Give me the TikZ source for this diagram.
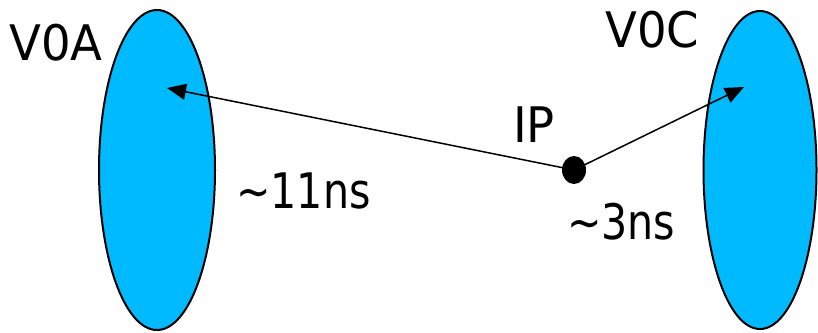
\documentclass[tikz,border=0pt]{standalone}
\usepackage{fontspec}
\usetikzlibrary{shapes.geometric,arrows.meta}
\newfontfamily\labfont[FakeStretch=0.95]{DejaVu Sans}
\newfontfamily\timefont[FakeStretch=0.84]{DejaVu Sans}
\definecolor{detblue}{RGB}{0,186,255}
\tikzset{
  detector/.style={ellipse, draw=black, line width=2pt, fill=detblue, inner sep=0pt},
  vertex/.style={ellipse, fill=black, inner sep=0pt, minimum width=24pt, minimum height=28pt},
  flight/.style={line width=1.5pt, -{Triangle[length=19pt,width=16pt]}},
  detlabel/.style={anchor=base west, inner sep=0pt, font=\labfont\fontsize{49}{49}\selectfont},
  toflabel/.style={anchor=base west, inner sep=0pt, font=\timefont\fontsize{49}{49}\selectfont}
}
\begin{document}
\begin{tikzpicture}[x=1pt,y=-1pt]
  \useasboundingbox (0,0) rectangle (818,332);
  % the two scintillator rings
  \node[detector, minimum width=116pt, minimum height=320pt] (v0a) at (157,170) {};
  \node[detector, minimum width=113pt, minimum height=318pt] (v0c) at (760,170) {};
  % interaction point
  \node[vertex] (ip) at (574,170) {};
  \coordinate (hitA) at (167,88);
  \coordinate (hitC) at (744,87);
  \draw[flight] (ip.center) -- (hitA);
  \draw[flight] (ip.center) -- (hitC);
  % labels
  \node[detlabel] (la) at (9,60) {V0A};
  \node[detlabel] (lc) at (605,47) {V0C};
  \node[detlabel] (lip) at (513,142) {IP};
  \node[toflabel] (ta) at (236,208) {\textasciitilde 11ns};
  \node[toflabel] (tc) at (567,239) {\textasciitilde 3ns};
\end{tikzpicture}
\end{document}
